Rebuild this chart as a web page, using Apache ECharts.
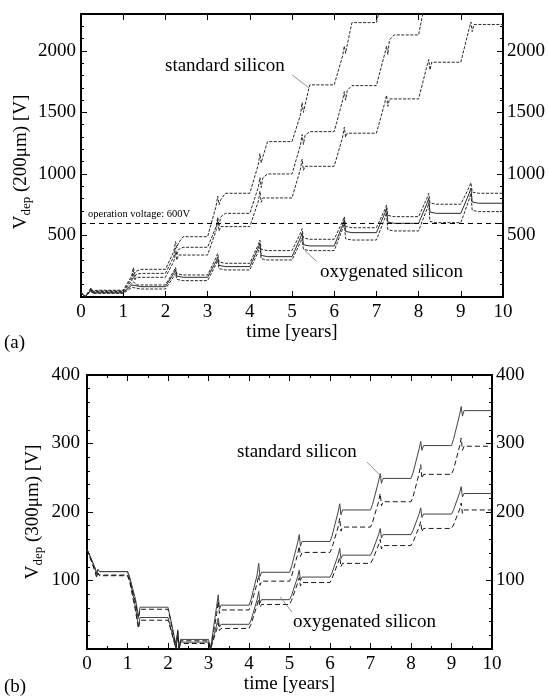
<!DOCTYPE html>
<html>
<head>
<meta charset="utf-8">
<script src="https://cdn.jsdelivr.net/npm/echarts@6/dist/echarts.min.js"></script>
<style>
  html, body { margin: 0; padding: 0; background: #fff; }
  #chart { width: 549px; height: 697px; }
</style>
</head>
<body>
<div id="chart"></div>
<script>
// ---------- (a) depletion voltage, 200 µm sensors ----------
// sample times [years]: each year = end of previous plateau, beam ramp, annealing wiggle, new plateau
const timesA = [
  0, 0.1, 0.24, 0.27, 0.31, 0.42,
  1, 1.2, 1.24, 1.27, 1.31, 1.42,
  2, 2.2, 2.24, 2.27, 2.31, 2.42,
  3, 3.2, 3.24, 3.27, 3.31, 3.42,
  4, 4.2, 4.24, 4.27, 4.31, 4.42,
  5, 5.2, 5.24, 5.27, 5.31, 5.42,
  6, 6.2, 6.24, 6.27, 6.31, 6.42,
  7, 7.2, 7.24, 7.27, 7.31, 7.42,
  8, 8.2, 8.24, 8.27, 8.31, 8.42,
  9, 9.2, 9.24, 9.27, 9.31, 9.42,
  10
];
// standard silicon, three scenarios [V]
const stdHighA = [
  40, 3, 75, 50, 55, 55,
  55, 170, 240, 190, 210, 225,
  225, 370, 450, 400, 440, 490,
  490, 737, 820, 750, 790, 843,
  843, 1074, 1165, 1090, 1140, 1263,
  1263, 1480, 1580, 1500, 1560, 1724,
  1724, 1960, 2040, 1980, 2050, 2230,
  2230, 2500, null, null, null, null,
  null, null, null, null, null, null,
  null, null, null, null, null, null,
  null
];
const stdMidA = [
  40, 3, 68, 45, 50, 50,
  50, 150, 215, 160, 185, 192,
  192, 330, 400, 340, 385, 404,
  404, 570, 650, 575, 650, 680,
  680, 890, 970, 890, 970, 1000,
  1000, 1234, 1320, 1240, 1315, 1344,
  1344, 1600, 1670, 1600, 1680, 1718,
  1718, 1980, 2040, 1970, 2090, 2130,
  2130, 2480, null, null, null, null,
  null, null, null, null, null, null,
  null
];
const stdLowA = [
  40, 3, 62, 40, 45, 45,
  45, 130, 185, 135, 160, 160,
  160, 290, 360, 300, 341, 341,
  341, 540, 625, 537, 572, 572,
  572, 775, 860, 770, 805, 805,
  805, 1040, 1120, 1030, 1062, 1062,
  1062, 1300, 1380, 1300, 1331, 1331,
  1331, 1580, 1640, 1550, 1610, 1610,
  1610, 1880, 1930, 1846, 1908, 1908,
  1908, 2185, 2235, 2157, 2215, 2215,
  2215
];
// oxygenated silicon, three scenarios [V]
const oxyHighA = [
  35, 3, 60, 38, 38, 38,
  38, 107, 124, 108, 98, 98,
  98, 212, 241, 189, 179, 179,
  179, 320, 355, 284, 274, 274,
  274, 425, 463, 387, 377, 377,
  377, 519, 555, 479, 469, 469,
  469, 616, 653, 573, 563, 563,
  563, 711, 748, 663, 653, 653,
  653, 805, 843, 764, 754, 754,
  754, 894, 929, 853, 843, 843,
  843
];
const oxyMidA = [
  35, 3, 55, 34, 34, 34,
  34, 96, 111, 94, 84, 84,
  84, 193, 220, 170, 160, 160,
  160, 290, 323, 257, 247, 247,
  247, 398, 436, 338, 328, 328,
  328, 482, 520, 425, 415, 415,
  415, 584, 626, 533, 523, 523,
  523, 681, 721, 609, 599, 599,
  599, 761, 802, 690, 680, 680,
  680, 843, 884, 772, 762, 762,
  762
];
const oxyLowA = [
  35, 3, 50, 30, 30, 30,
  30, 77, 89, 75, 65, 65,
  65, 167, 193, 143, 133, 133,
  133, 267, 301, 230, 220, 220,
  220, 367, 404, 311, 301, 301,
  301, 444, 480, 387, 377, 377,
  377, 555, 599, 473, 463, 463,
  463, 641, 685, 547, 537, 537,
  537, 717, 762, 614, 604, 604,
  604, 795, 843, 704, 694, 694,
  694
];
const operationVoltage = 600;

// ---------- (b) depletion voltage, 300 µm sensors ----------
const timesB = [
  0, 0.05, 0.2, 0.24, 0.27, 0.31,
  1, 1.05, 1.2, 1.24, 1.27, 1.31,
  2, 2.05, 2.2, 2.24, 2.27, 2.31,
  3, 3.05, 3.2, 3.24, 3.27, 3.31,
  4, 4.05, 4.2, 4.24, 4.27, 4.31,
  5, 5.05, 5.2, 5.24, 5.27, 5.31,
  6, 6.05, 6.2, 6.24, 6.27, 6.31,
  7, 7.05, 7.2, 7.24, 7.27, 7.31,
  8, 8.05, 8.2, 8.24, 8.27, 8.31,
  9, 9.05, 9.2, 9.24, 9.27, 9.31,
  10
];
const stdSolidB = [
  145, 139, 118, 110, 116, 113,
  113, 104, 60, 44, 33, 46,
  46, 35, 0, 25, 0, 10,
  10, 0, 62, 79, 58, 64,
  64, 72, 108, 125, 106, 112,
  112, 120, 155, 167, 150, 157,
  157, 165, 200, 212, 196, 203,
  203, 211, 245, 256, 242, 249,
  249, 257, 292, 303, 290, 297,
  297, 306, 342, 354, 340, 348,
  348
];
const stdDashedB = [
  145, 138, 113, 104, 110, 107,
  107, 99, 55, 40, 30, 42,
  42, 32, 0, 22, 0, 8,
  8, 0, 50, 70, 52, 57,
  57, 64, 96, 108, 93, 99,
  99, 106, 138, 150, 135, 141,
  141, 148, 178, 191, 172, 178,
  178, 185, 215, 227, 209, 215,
  215, 222, 256, 269, 249, 255,
  255, 262, 296, 308, 290, 296,
  296
];
const oxySolidB = [
  145, 139, 118, 110, 116, 113,
  113, 106, 72, 58, 47, 61,
  61, 48, 5, 28, 2, 14,
  14, 0, 35, 45, 32, 36,
  36, 42, 72, 84, 67, 72,
  72, 78, 105, 115, 100, 105,
  105, 111, 137, 147, 132, 137,
  137, 143, 167, 176, 162, 167,
  167, 173, 197, 206, 192, 197,
  197, 203, 228, 237, 222, 227,
  227
];
const oxyDashedB = [
  145, 138, 114, 105, 111, 108,
  108, 101, 68, 54, 44, 58,
  58, 45, 3, 26, 1, 12,
  12, 0, 28, 38, 27, 30,
  30, 36, 64, 73, 61, 65,
  65, 71, 96, 104, 92, 97,
  97, 103, 126, 134, 120, 125,
  125, 130, 152, 160, 146, 151,
  151, 156, 178, 186, 171, 176,
  176, 181, 204, 213, 198, 203,
  203
];

// axis ticks
const yearTicks = [0, 1, 2, 3, 4, 5, 6, 7, 8, 9, 10];
const yTicksA = [500, 1000, 1500, 2000];
const yTicksB = [100, 200, 300, 400];

// ---------- styling ----------
const FONT = 'Liberation Serif';
const INK = '#000';
const zip = (ts, vs) => ts.map((t, i) => [t, vs[i]]);

const tickStyle = { inside: true, length: 6, lineStyle: { color: INK, width: 1 } };
const lineAxis = { show: true, onZero: false, lineStyle: { color: INK, width: 2 } };
const labelStyle = { color: INK, fontFamily: FONT, fontSize: 19 };

function xAxisPair(grid, minor) {
  const base = {
    type: 'value', gridIndex: grid, min: 0, max: 10, interval: 1,
    axisLine: lineAxis, axisTick: tickStyle, splitLine: { show: false },
    minorTick: minor ? { show: true, splitNumber: 2, length: 3, lineStyle: { color: INK, width: 1 } } : { show: false }
  };
  return [
    Object.assign({}, base, {
      position: 'bottom',
      axisLabel: Object.assign({ margin: 6, formatter: v => (yearTicks.includes(v) ? String(v) : '') }, labelStyle),
      name: 'time [years]', nameLocation: 'middle', nameGap: 24,
      nameTextStyle: { color: INK, fontFamily: FONT, fontSize: 19 }
    }),
    Object.assign({}, base, { position: 'top', axisLabel: { show: false } })
  ];
}

function yAxis(grid, pos, max, interval, labels, margin, minor) {
  return {
    type: 'value', gridIndex: grid, position: pos, min: 0, max: max, interval: interval,
    axisLine: lineAxis, axisTick: tickStyle, splitLine: { show: false },
    minorTick: minor ? { show: true, splitNumber: minor, length: 3, lineStyle: { color: INK, width: 1 } } : { show: false },
    axisLabel: Object.assign({ margin: margin, formatter: v => (labels.includes(v) ? String(v) : '') }, labelStyle)
  };
}
function yMinorAxis(grid, pos, max, step) {
  return {
    type: 'value', gridIndex: grid, position: pos, min: 0, max: max, interval: step,
    axisLine: { show: false, onZero: false }, splitLine: { show: false },
    axisTick: { inside: true, length: 3, lineStyle: { color: INK, width: 1 } },
    axisLabel: { show: false }
  };
}

const curveA = (name, vals, dash) => ({
  name, type: 'line', xAxisIndex: 0, yAxisIndex: 0, data: zip(timesA, vals),
  showSymbol: false, symbol: 'none', connectNulls: false, silent: true, z: 3,
  lineStyle: { color: '#2a2a2a', width: 1, type: dash }
});
const curveB = (name, vals, solid) => ({
  name, type: 'line', xAxisIndex: 2, yAxisIndex: 4, data: zip(timesB, vals),
  showSymbol: false, symbol: 'none', silent: true, z: 3,
  lineStyle: solid ? { color: '#444', width: 1, type: 'solid' } : { color: '#1a1a1a', width: 1, type: [5, 3] }
});

const leader = (from, to) => [
  { coord: from, lineStyle: { color: '#777', width: 0.8, type: 'solid' } },
  { coord: to }
];

const sA1 = curveA('std-high', stdHighA, [3, 1.5]);
sA1.markLine = {
  silent: true, symbol: ['none', 'none'], animation: false, label: { show: false },
  data: [
    { yAxis: operationVoltage, lineStyle: { color: INK, width: 1, type: [5, 4] } },
    leader([5.0, 1805], [5.4, 1700]),
    leader([5.3, 380], [5.58, 290])
  ]
};
const sB1 = curveB('std-solid', stdSolidB, true);
sB1.markLine = {
  silent: true, symbol: ['none', 'none'], animation: false, label: { show: false },
  data: [
    leader([6.91, 273], [7.28, 251]),
    leader([4.77, 76], [5.06, 54])
  ]
};

const xa = xAxisPair(0, false);
const xb = xAxisPair(1, true);

const textEl = (x, y, text, size, extra) => Object.assign({
  type: 'text', x, y, silent: true,
  style: { text, fill: INK, fontFamily: FONT, fontSize: size, align: 'left', verticalAlign: 'middle' }
}, extra || {});

const yTitle = (x, y, thick) => ({
  type: 'text', x, y, rotation: Math.PI / 2, silent: true,
  style: {
    text: '{m|V}{s|dep}{m| (' + thick + ') [V]}',
    align: 'center', verticalAlign: 'middle', fill: INK,
    rich: {
      m: { fontFamily: FONT, fontSize: 19, lineHeight: 24, verticalAlign: 'middle', fill: INK },
      s: { fontFamily: FONT, fontSize: 13, lineHeight: 13, verticalAlign: 'bottom', fill: INK }
    }
  }
});

const option = {
  animation: false,
  backgroundColor: '#fff',
  grid: [
    { left: 81, top: 14, width: 422, height: 283 },
    { left: 87, top: 375, width: 405, height: 274 }
  ],
  xAxis: [xa[0], xa[1], xb[0], xb[1]],
  yAxis: [
    yAxis(0, 'left', 2300, 500, yTicksA, 5, 0),
    yMinorAxis(0, 'left', 2300, 100),
    yAxis(0, 'right', 2300, 500, yTicksA, 4, 0),
    yMinorAxis(0, 'right', 2300, 100),
    yAxis(1, 'left', 400, 100, yTicksB, 7, 5),
    yAxis(1, 'right', 400, 100, yTicksB, 4, 5)
  ],
  series: [
    sA1,
    curveA('std-mid', stdMidA, [3, 1.5]),
    curveA('std-low', stdLowA, [3, 1.5]),
    curveA('oxy-high', oxyHighA, [3, 1.5]),
    curveA('oxy-mid', oxyMidA, 'solid'),
    curveA('oxy-low', oxyLowA, [3, 1.5]),
    sB1,
    curveB('std-dashed', stdDashedB, false),
    curveB('oxy-solid', oxySolidB, true),
    curveB('oxy-dashed', oxyDashedB, false)
  ],
  graphic: [
    textEl(165, 66, 'standard silicon', 19),
    textEl(320, 272, 'oxygenated silicon', 19),
    textEl(88, 214, 'operation voltage: 600V', 10.5),
    textEl(4, 343, '(a)', 19),
    yTitle(21, 162, '200μm'),
    textEl(237, 452, 'standard silicon', 19),
    textEl(293, 622, 'oxygenated silicon', 19),
    textEl(4, 687, '(b)', 19),
    yTitle(33, 512, '300μm')
  ]
};

const chart = echarts.init(document.getElementById('chart'), null, { renderer: 'canvas' });
chart.setOption(option);
</script>
</body>
</html>
